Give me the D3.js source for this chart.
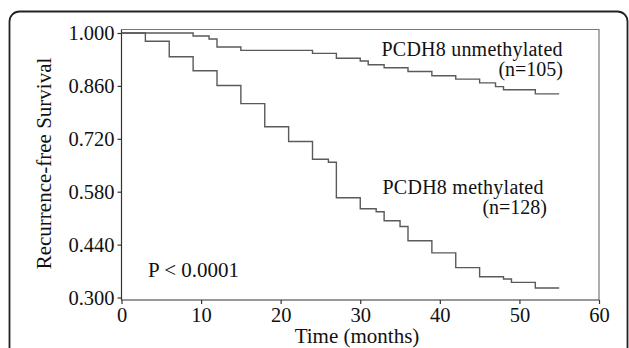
<!DOCTYPE html>
<html>
<head>
<meta charset="utf-8">
<script src="https://cdn.jsdelivr.net/npm/d3@7"></script>
<style>
  html, body { margin: 0; padding: 0; background: #fff; }
  svg { display: block; }
  text { font-family: "Liberation Serif", "DejaVu Serif", serif; fill: #111; }
</style>
</head>
<body>
<div id="chart"></div>
<script>
// Kaplan-Meier steps (time in months, survival after the step)
const unmethTimes = [0, 9, 11, 12, 15, 24, 27, 30, 31, 33, 36, 39, 42, 45, 47, 48, 52, 55];
const unmethSurv  = [1.0, 0.992, 0.984, 0.963, 0.954, 0.946, 0.933, 0.926, 0.916, 0.908, 0.898, 0.887, 0.878, 0.868, 0.858, 0.850, 0.839, 0.839];

const methTimes = [0, 3, 6, 9, 12, 15, 18, 21, 24, 26, 27, 30, 32, 33, 35, 36, 39, 42, 45, 48, 49, 52, 55];
const methSurv  = [1.0, 0.978, 0.937, 0.900, 0.861, 0.813, 0.752, 0.713, 0.666, 0.658, 0.564, 0.535, 0.527, 0.503, 0.488, 0.450, 0.418, 0.379, 0.355, 0.349, 0.340, 0.325, 0.325];

const xTicks = [0, 10, 20, 30, 40, 50, 60];
const yTicks = [0.300, 0.440, 0.580, 0.720, 0.860, 1.000];

const width = 629, height = 348;

const svg = d3.select('#chart')
  .append('svg')
  .attr('width', width)
  .attr('height', height);

// outer rounded panel
svg.append('rect')
  .attr('x', 9.5).attr('y', 11.5)
  .attr('width', 618).attr('height', 400)
  .attr('rx', 10).attr('ry', 10)
  .attr('fill', 'none')
  .attr('stroke', '#222')
  .attr('stroke-width', 1.8);

const x = d3.scaleLinear().domain([0, 60]).range([121.5, 599]);
const y = d3.scaleLinear().domain([0.3, 1.0]).range([297.5, 33]);

const plotTop = 29.5, plotBottom = 300;

// top and right frame lines
svg.append('path')
  .attr('d', `M${x(0)},${plotTop}H${x(60)}V${plotBottom}`)
  .attr('fill', 'none')
  .attr('stroke', '#777')
  .attr('stroke-width', 1.2);

// x axis
const xAxis = svg.append('g')
  .attr('transform', `translate(0,${plotBottom})`)
  .call(d3.axisBottom(x).tickValues(xTicks).tickSize(4).tickPadding(3).tickFormat(d3.format('d')));
xAxis.select('.domain').attr('d', `M${x(0)},0H${x(60)}`);
xAxis.selectAll('line, path').attr('stroke', '#333').attr('stroke-width', 1.2);
xAxis.selectAll('text')
  .attr('font-size', '20.5px')
  .attr('font-family', '"Liberation Serif", serif')
  .attr('fill', '#111');

// y axis
const yAxis = svg.append('g')
  .attr('transform', `translate(${x(0)},0)`)
  .call(d3.axisLeft(y).tickValues(yTicks).tickSize(4).tickPadding(3).tickFormat(d3.format('.3f')));
yAxis.select('.domain').attr('d', `M0,${plotTop}V${plotBottom}`);
yAxis.selectAll('line, path').attr('stroke', '#333').attr('stroke-width', 1.2);
yAxis.selectAll('text')
  .attr('font-size', '20.5px')
  .attr('font-family', '"Liberation Serif", serif')
  .attr('fill', '#111');

// survival curves
const line = d3.line()
  .x(d => x(d[0]))
  .y(d => y(d[1]))
  .curve(d3.curveStepAfter);

svg.append('path')
  .datum(d3.zip(unmethTimes, unmethSurv))
  .attr('d', line)
  .attr('fill', 'none')
  .attr('stroke', '#5a5a5a')
  .attr('stroke-width', 1.4);

svg.append('path')
  .datum(d3.zip(methTimes, methSurv))
  .attr('d', line)
  .attr('fill', 'none')
  .attr('stroke', '#5a5a5a')
  .attr('stroke-width', 1.4);

// labels
svg.append('text')
  .attr('x', 357).attr('y', 343)
  .attr('text-anchor', 'middle')
  .attr('font-size', '21px')
  .text('Time (months)');

svg.append('text')
  .attr('transform', 'translate(51,163.5) rotate(-90)')
  .attr('text-anchor', 'middle')
  .attr('font-size', '21px')
  .text('Recurrence-free Survival');

svg.append('text')
  .attr('x', 381.5).attr('y', 56)
  .attr('font-size', '20px')
  .attr('textLength', 181)
  .text('PCDH8 unmethylated');
svg.append('text')
  .attr('x', 563).attr('y', 76)
  .attr('text-anchor', 'end')
  .attr('font-size', '20px')
  .text('(n=105)');

svg.append('text')
  .attr('x', 382.5).attr('y', 194)
  .attr('font-size', '20px')
  .attr('textLength', 161)
  .text('PCDH8 methylated');
svg.append('text')
  .attr('x', 547).attr('y', 214)
  .attr('text-anchor', 'end')
  .attr('font-size', '20px')
  .text('(n=128)');

svg.append('text')
  .attr('x', 148).attr('y', 276.5)
  .attr('font-size', '21px')
  .text('P < 0.0001');
</script>
</body>
</html>
